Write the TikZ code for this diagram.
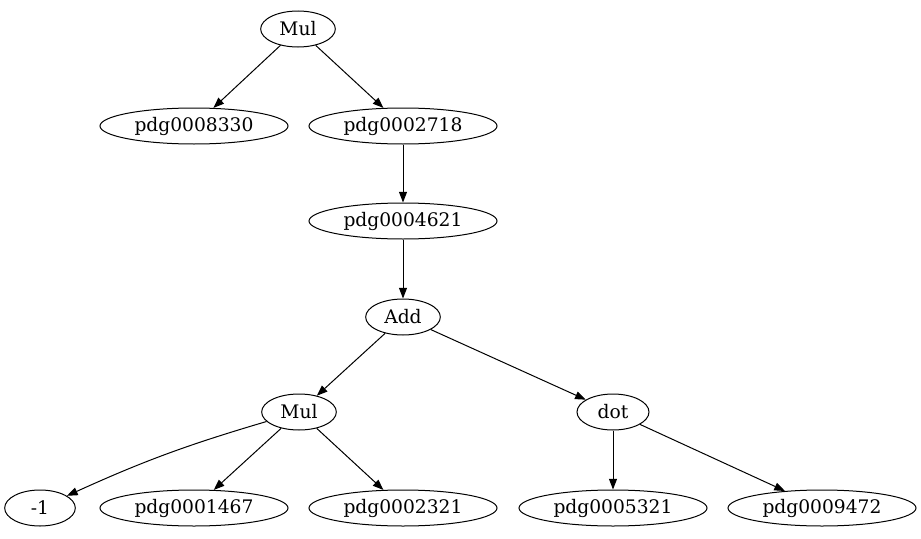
\documentclass[tikz,border=0pt]{standalone}
\usepackage{fontspec}
\setmainfont{DejaVu Serif}
\usetikzlibrary{arrows.meta,shapes.geometric}

\begin{document}
\begin{tikzpicture}[x=0.75pt,y=-0.75pt,
    every node/.style={ellipse,draw,inner sep=0pt,minimum height=27pt,
      font=\fontsize{14}{17}\selectfont},
    op/.style={minimum width=56pt},
    leaf/.style={minimum width=141pt},
    line width=0.75pt]
    \useasboundingbox (0,0) rectangle (921,539);
 %the tree
    %the operations
    \node[op] (Mul1) at (298,29) {Mul};
    \node[op] (Add) at (403,317) {Add};
    \node[op] (Mul2) at (299,412) {Mul};
    \node[op,minimum width=54pt] (dot) at (613,412) {dot};
    %the symbols
    \node[leaf] (p8330) at (194,126) {pdg0008330};
    \node[leaf] (p2718) at (403,126) {pdg0002718};
    \node[leaf] (p4621) at (403,221) {pdg0004621};
    \node[op,minimum width=53pt] (m1) at (40,508) {-1};
    \node[leaf] (p1467) at (194,508) {pdg0001467};
    \node[leaf] (p2321) at (403,508) {pdg0002321};
    \node[leaf] (p5321) at (613,508) {pdg0005321};
    \node[leaf] (p9472) at (822,508) {pdg0009472};

    %the arrows
    \begin{scope}[every path/.style={-{Triangle[length=8pt,width=6pt]}}]
       \draw (Mul1) -- (p8330);
       \draw (Mul1) -- (p2718);
       \draw (p2718) -- (p4621);
       \draw (p4621) -- (Add);
       \draw (Add) -- (Mul2);
       \draw (Add) -- (dot);
       \draw (Mul2) to[bend right=4] (m1);
       \draw (Mul2) -- (p1467);
       \draw (Mul2) -- (p2321);
       \draw (dot) -- (p5321);
       \draw (dot) -- (p9472);
    \end{scope}
\end{tikzpicture}
\end{document}
